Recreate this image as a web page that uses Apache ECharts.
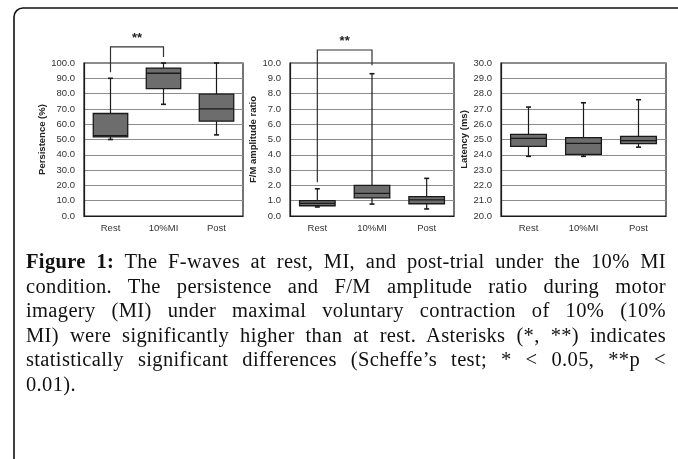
<!DOCTYPE html>
<html>
<head>
<meta charset="utf-8">
<script src="https://cdn.jsdelivr.net/npm/echarts@6/dist/echarts.min.js"></script>
<style>
  html, body { margin: 0; padding: 0; background: #fff; }
  #wrap { position: relative; width: 678px; height: 459px; overflow: hidden; }
  #chart { position: absolute; left: 0; top: 0; width: 678px; height: 459px; }
  #caption {
    position: absolute; left: 26px; top: 249px; width: 640px;
    font-family: "Liberation Serif", serif; font-size: 20.5px; line-height: 24.5px; color: #111;
    letter-spacing: 0.35px;
  }
  #caption div { text-align: justify; text-align-last: justify; white-space: nowrap; }
  #caption div.last { text-align-last: left; }
</style>
</head>
<body>
<div id="wrap">
  <div id="chart"></div>
  <div id="caption">
    <div><b>Figure 1:</b> The F-waves at rest, MI, and post-trial under the 10% MI</div>
    <div>condition. The persistence and F/M amplitude ratio during motor</div>
    <div>imagery (MI) under maximal voluntary contraction of 10% (10%</div>
    <div>MI) were significantly higher than at rest. Asterisks (*, **) indicates</div>
    <div>statistically significant differences (Scheffe’s test; * &lt; 0.05, **p &lt;</div>
    <div class="last">0.01).</div>
  </div>
</div>
<script>
  var categories = ['Rest', '10%MI', 'Post'];
  // min, q1, median, q3, max
  var persistence = [
    [50, 51.7, 52.5, 67, 90],
    [73, 83.2, 93.3, 96.7, 100],
    [53, 62, 70, 79.6, 100]
  ];
  var fmRatio = [
    [0.59, 0.67, 0.83, 1.0, 1.78],
    [0.78, 1.18, 1.48, 2.0, 9.3],
    [0.46, 0.8, 1.05, 1.26, 2.46]
  ];
  var latency = [
    [23.9, 24.55, 25.08, 25.34, 27.12],
    [23.9, 24.03, 24.75, 25.12, 27.4],
    [24.5, 24.73, 24.92, 25.2, 27.6]
  ];
  var axisNames = ['Persistence (%)', 'F/M amplitude ratio', 'Latency (ms)'];
  var axisRanges = [[0, 100, 10], [0, 10, 1], [20, 30, 1]];
  // from, to, left leg bottom, right leg bottom, bracket top
  var bracket1 = [[0, 1, 94, 104, 110.5]];
  var bracket2 = [[0, 1, 2.2, 9.85, 10.85]];
  var sigLabel = '**';

  var chart = echarts.init(document.getElementById('chart'));

  function toBoxData(arr) {
    return arr.map(function (d, i) { return [i].concat(d); });
  }

  //箱ひげ図
  function renderBox(params, api) {
    var x = api.value(0);
    var lo = api.coord([x, api.value(1)]);
    var q1 = api.coord([x, api.value(2)]);
    var med = api.coord([x, api.value(3)]);
    var q3 = api.coord([x, api.value(4)]);
    var hi = api.coord([x, api.value(5)]);
    var bw = api.size([1, 0])[0] * 0.65;
    var cx = lo[0];
    var cap = 2.5;
    var line = { stroke: '#1a1a1a', lineWidth: 1.2 };
    return {
      type: 'group',
      children: [
        { type: 'line', shape: { x1: cx, y1: hi[1], x2: cx, y2: q3[1] }, style: line },
        { type: 'line', shape: { x1: cx, y1: q1[1], x2: cx, y2: lo[1] }, style: line },
        { type: 'line', shape: { x1: cx - cap, y1: hi[1], x2: cx + cap, y2: hi[1] }, style: { stroke: '#1a1a1a', lineWidth: 1.6 } },
        { type: 'line', shape: { x1: cx - cap, y1: lo[1], x2: cx + cap, y2: lo[1] }, style: { stroke: '#1a1a1a', lineWidth: 1.6 } },
        { type: 'rect', shape: { x: cx - bw / 2, y: q3[1], width: bw, height: q1[1] - q3[1] },
          style: { fill: '#6d6d6d', stroke: '#1a1a1a', lineWidth: 1.3 } },
        { type: 'line', shape: { x1: cx - bw / 2, y1: med[1], x2: cx + bw / 2, y2: med[1] }, style: { stroke: '#1a1a1a', lineWidth: 1.3 } }
      ]
    };
  }

  function renderBracket(params, api) {
    var a = api.coord([api.value(0), api.value(2)]);
    var b = api.coord([api.value(1), api.value(3)]);
    var t = api.coord([api.value(0), api.value(4)]);
    return {
      type: 'group',
      children: [
        { type: 'polyline', shape: { points: [[a[0], a[1]], [a[0], t[1]], [b[0], t[1]], [b[0], b[1]]] },
          style: { stroke: '#333', lineWidth: 1.2, fill: null } },
        { type: 'text', style: { text: sigLabel, x: (a[0] + b[0]) / 2, y: t[1] - 2,
          align: 'center', verticalAlign: 'bottom', fill: '#222',
          font: 'bold 13px "Liberation Sans", Arial, sans-serif' } }
      ]
    };
  }

  var grids = [
    { left: 84, top: 63, width: 159, height: 153 },
    { left: 290, top: 63, width: 164, height: 153 },
    { left: 501, top: 63, width: 165, height: 153 }
  ];
  var nameGaps = [37, 31, 31];

  var xAxes = [], yAxes = [];
  grids.forEach(function (g, i) {
    g.show = true;
    g.borderColor = '#1a1a1a';
    g.borderWidth = 1.2;
    xAxes.push({
      type: 'category', gridIndex: i, data: categories,
      axisLine: { show: true, lineStyle: { color: '#1a1a1a', width: 1.2 } },
      axisTick: { show: false },
      axisLabel: { color: '#333', fontSize: 9.5, margin: 7, fontFamily: 'Liberation Sans' }
    });
    yAxes.push({
      type: 'value', gridIndex: i,
      min: axisRanges[i][0], max: axisRanges[i][1], interval: axisRanges[i][2],
      name: axisNames[i], nameLocation: 'middle', nameGap: nameGaps[i],
      nameTextStyle: { color: '#222', fontSize: 9.5, fontWeight: 'bold', fontFamily: 'Liberation Sans' },
      axisLine: { show: true, lineStyle: { color: '#1a1a1a', width: 1.2 } },
      axisTick: { show: false },
      axisLabel: { color: '#333', fontSize: 9.5, margin: 9, fontFamily: 'Liberation Sans',
        formatter: function (v) { return v.toFixed(1); } },
      splitLine: { lineStyle: { color: '#8c8c8c', width: 1.2 } }
    });
  });

  chart.setOption({
    animation: false,
    grid: grids,
    xAxis: xAxes,
    yAxis: yAxes,
    graphic: [{
      type: 'rect', shape: { x: 14, y: 8, width: 720, height: 520, r: 9 },
      style: { fill: null, stroke: '#111', lineWidth: 1.6 }, silent: true
    }],
    series: [
      { type: 'custom', xAxisIndex: 0, yAxisIndex: 0, renderItem: renderBox, data: toBoxData(persistence), z: 3 },
      { type: 'custom', xAxisIndex: 1, yAxisIndex: 1, renderItem: renderBox, data: toBoxData(fmRatio), z: 3 },
      { type: 'custom', xAxisIndex: 2, yAxisIndex: 2, renderItem: renderBox, data: toBoxData(latency), z: 3 },
      { type: 'custom', xAxisIndex: 0, yAxisIndex: 0, renderItem: renderBracket, data: bracket1, clip: false, z: 4 },
      { type: 'custom', xAxisIndex: 1, yAxisIndex: 1, renderItem: renderBracket, data: bracket2, clip: false, z: 4 }
    ]
  });
</script>
</body>
</html>
